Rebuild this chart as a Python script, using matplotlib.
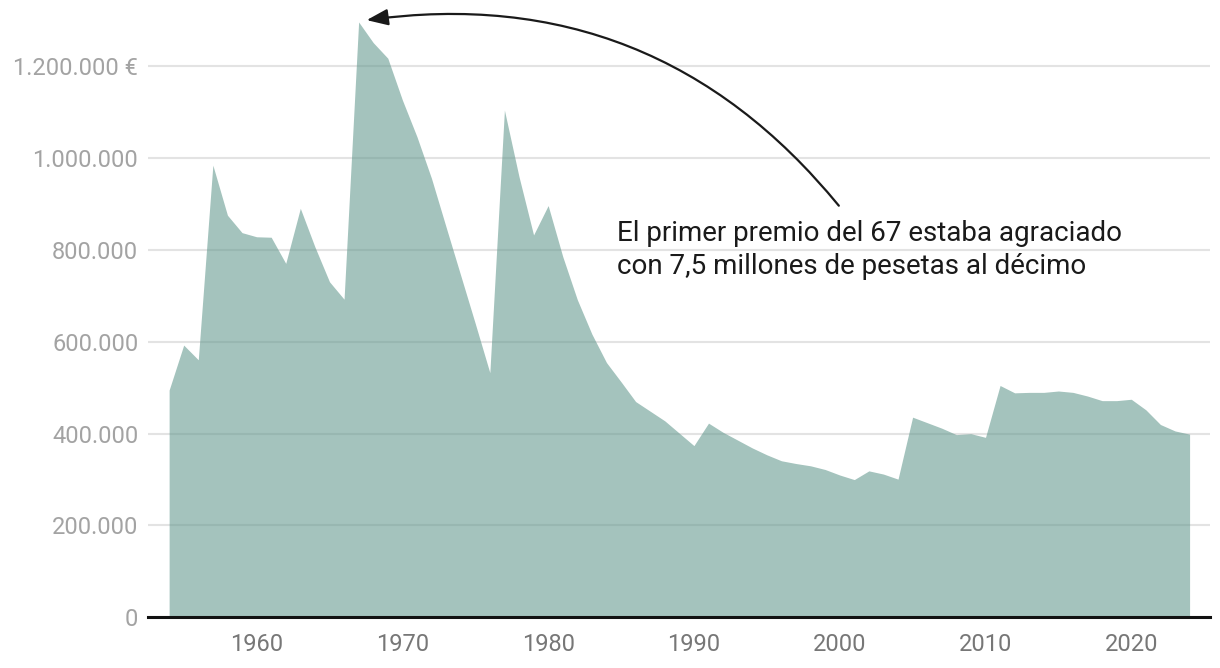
import matplotlib
matplotlib.use("Agg")
import matplotlib.pyplot as plt
from matplotlib.ticker import FuncFormatter

plt.rcParams['font.family'] = ['Roboto', 'DejaVu Sans']

# premio por décimo (euros constantes), 1954-2024
years = list(range(1954, 2025))
premio = [495000, 593000, 561000, 985000, 876000, 838000, 829000, 828000, 771000, 891000,
          807000, 731000, 693000, 1297000, 1252000, 1218000, 1127000, 1047000, 956000, 850000,
          745000, 640000, 533000, 1105000, 960000, 833000, 897000, 786000, 692000, 617000,
          555000, 513000, 470000, 449000, 428000, 401000, 374000, 423000, 403000, 386000,
          369000, 354000, 341000, 335000, 330000, 322000, 310000, 300000, 319000, 312000,
          301000, 436000, 424000, 412000, 398000, 400000, 392000, 505000, 489000, 490000,
          490000, 493000, 490000, 482000, 472000, 472000, 475000, 452000, 420000, 406000,
          399000]
yticks = [0, 200000, 400000, 600000, 800000, 1000000, 1200000]
xticks = [1960, 1970, 1980, 1990, 2000, 2010, 2020]
nota = "El primer premio del 67 estaba agraciado\ncon 7,5 millones de pesetas al décimo"

fig = plt.figure(figsize=(12.2, 6.68), dpi=100)
ax = fig.add_axes([0.1213, 0.0759, 0.8705, 0.8933])

ax.fill_between(years, premio, 0, color='#679b91', alpha=0.6, linewidth=0, zorder=2)

ax.set_xlim(1952.55, 2025.4)
ax.set_ylim(0, 1300000)
ax.set_yticks(yticks)
ax.set_xticks(xticks)

def fmt(v, pos):
    s = f"{int(v):,}".replace(",", ".")
    if v == 1200000:
        s += " €"
    return s

ax.yaxis.set_major_formatter(FuncFormatter(fmt))
ax.grid(axis='y', color='#e3e3e3', linewidth=1.5, zorder=1)
ax.set_axisbelow(True)

for s in ['top', 'right', 'left']:
    ax.spines[s].set_visible(False)
ax.spines['bottom'].set_linewidth(2.2)
ax.spines['bottom'].set_color('#111111')
ax.spines['bottom'].set_zorder(3)

ax.tick_params(axis='y', length=0, pad=7, labelsize=17, labelcolor='#a3a3a3')
ax.tick_params(axis='x', length=0, pad=11, labelsize=17, labelcolor='#777777')

ax.text(1984.71, 866000, nota, fontsize=20, color='#1a1a1a', va='top', ha='left',
        linespacing=1.28)

ax.annotate('', xy=(1967.55, 1301000), xytext=(1999.94, 896700),
            arrowprops=dict(arrowstyle='-|>,head_length=0.65,head_width=0.25',
                            mutation_scale=20, color='#1a1a1a', lw=1.6,
                            connectionstyle='arc3,rad=0.28', shrinkA=0, shrinkB=0),
            annotation_clip=False)

fig.savefig('out.png', dpi=100)
